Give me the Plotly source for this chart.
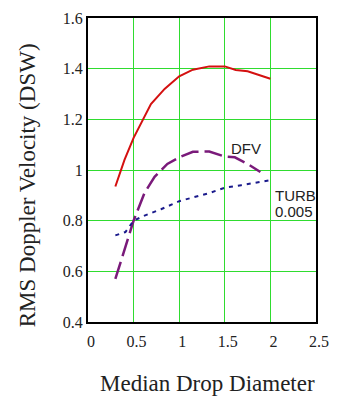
import plotly.graph_objects as go

# Data
red_x = [0.30, 0.40, 0.50, 0.60, 0.69, 0.84, 1.00, 1.15, 1.33, 1.50, 1.62, 1.75, 1.88, 2.00]
red_y = [0.935, 1.04, 1.127, 1.20, 1.26, 1.32, 1.37, 1.396, 1.409, 1.409, 1.395, 1.39, 1.375, 1.36]

dfv_x = [0.30, 0.41, 0.50, 0.62, 0.73, 0.87, 1.00, 1.15, 1.33, 1.50, 1.61, 1.75, 1.89]
dfv_y = [0.57, 0.70, 0.80, 0.91, 0.973, 1.024, 1.05, 1.072, 1.073, 1.053, 1.05, 1.024, 0.992]

turb_x = [0.30, 0.41, 0.50, 0.62, 0.80, 1.00, 1.33, 1.50, 1.68, 2.00]
turb_y = [0.742, 0.755, 0.80, 0.82, 0.845, 0.877, 0.909, 0.93, 0.94, 0.96]

x_ticks = [0, 0.5, 1, 1.5, 2, 2.5]
x_ticklabels = ["0", "0.5", "1", "1.5", "2", "2.5"]
y_ticks = [0.4, 0.6, 0.8, 1.0, 1.2, 1.4, 1.6]
y_ticklabels = ["0.4", "0.6", "0.8", "1", "1.2", "1.4", "1.6"]

serif = "Liberation Serif, Times New Roman, serif"
sans = "Liberation Sans, Arial, sans-serif"

fig = go.Figure()
fig.add_trace(go.Scatter(x=red_x, y=red_y, mode="lines", line=dict(color="#d41010", width=2), showlegend=False))
fig.add_trace(go.Scatter(x=dfv_x, y=dfv_y, mode="lines", line=dict(color="#7a1a7a", width=2.5, dash="18px,6px"), showlegend=False))
fig.add_trace(go.Scatter(x=turb_x, y=turb_y, mode="lines", line=dict(color="#1a1a8c", width=2, dash="4px,5px"), showlegend=False))

fig.update_layout(
    width=339, height=398,
    margin=dict(l=88, r=16, t=10, b=76),
    paper_bgcolor="white", plot_bgcolor="white",
    xaxis=dict(range=[0, 2.5], tickvals=x_ticks, ticktext=x_ticklabels,
               showgrid=True, gridcolor="#2fdc2f", gridwidth=1, zeroline=False,
               showline=True, linecolor="black", linewidth=2, mirror=True,
               ticks="", ticklabelshift=3, ticklabelstandoff=4,
               tickfont=dict(family=serif, size=16, color="#222")),
    yaxis=dict(range=[0.4, 1.6], tickvals=y_ticks, ticktext=y_ticklabels,
               showgrid=True, gridcolor="#2fdc2f", gridwidth=1, zeroline=False,
               showline=True, linecolor="black", linewidth=2, mirror=True,
               ticks="", tickfont=dict(family=serif, size=16, color="#222")),
    annotations=[
        dict(text="RMS Doppler Velocity (DSW)", xref="paper", yref="paper", x=-0.264, y=0.449,
             textangle=-90, showarrow=False, font=dict(family=serif, size=23, color="#222"),
             xanchor="center", yanchor="middle"),
        dict(text="Median Drop Diameter", xref="paper", yref="paper", x=0.523, y=-0.202,
             showarrow=False, font=dict(family=serif, size=23, color="#222"),
             xanchor="center", yanchor="middle"),
        dict(text="DFV", x=1.734, y=1.083, showarrow=False,
             font=dict(family=sans, size=15, color="#222"), xanchor="center", yanchor="middle"),
        dict(text="TURB", x=2.03, y=0.898, showarrow=False,
             font=dict(family=sans, size=15, color="#222"), xanchor="left", yanchor="middle"),
        dict(text="0.005", x=2.03, y=0.835, showarrow=False,
             font=dict(family=sans, size=15, color="#222"), xanchor="left", yanchor="middle"),
    ],
)

fig.write_html("out.html")
